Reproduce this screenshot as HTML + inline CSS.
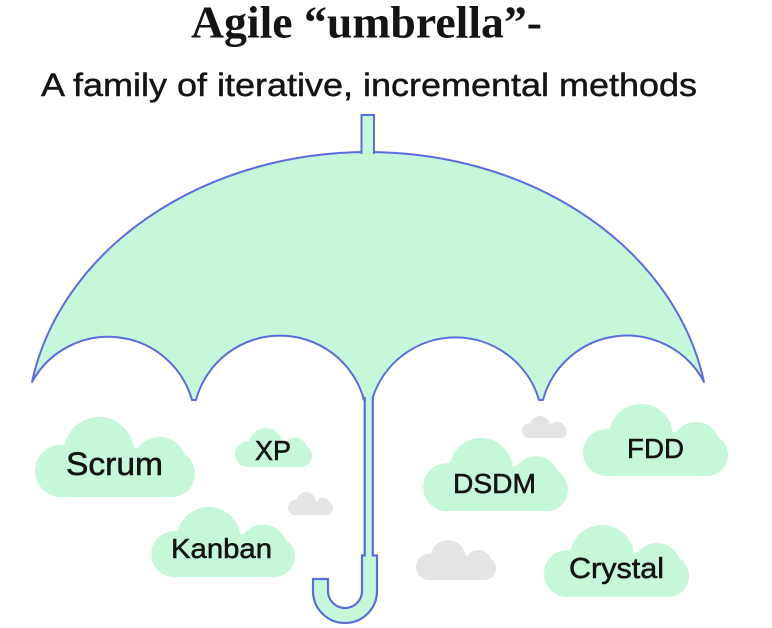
<!DOCTYPE html>
<html>
<head>
<meta charset="utf-8">
<style>
  html, body { margin: 0; padding: 0; background: #ffffff; }
  body { width: 772px; height: 628px; overflow: hidden; }
  svg { display: block; }
  .t { font-family: "Liberation Sans", Arial, sans-serif; fill: #141414; stroke: #141414; stroke-width: 0.55; }
  .sub { font-family: "Liberation Sans", Arial, sans-serif; fill: #141414; stroke: #141414; stroke-width: 0.45; }
  .title { font-family: "Liberation Serif", "Times New Roman", serif; font-weight: bold; fill: #141414; }
</style>
</head>
<body>
<svg width="772" height="628" viewBox="0 0 772 628" xmlns="http://www.w3.org/2000/svg">
  <defs>
    <g id="cl">
      <circle cx="23.5" cy="48.5" r="23.5"/>
      <circle cx="58" cy="32" r="32"/>
      <circle cx="113" cy="42" r="24"/>
      <circle cx="124" cy="51" r="21"/>
      <circle cx="90" cy="42" r="14"/>
      <circle cx="30" cy="36" r="12"/>
      <rect x="22" y="40" width="104" height="32"/>
    </g>
  </defs>

  <rect width="772" height="628" fill="#ffffff"/>

  <!-- Titles -->
  <text class="title" x="191" y="37.5" font-size="46" textLength="351" lengthAdjust="spacingAndGlyphs">Agile “umbrella”-</text>
  <text class="sub" x="41" y="96" font-size="32" textLength="656" lengthAdjust="spacingAndGlyphs">A family of iterative, incremental methods</text>

  <!-- Canopy -->
  <path d="M32,382 A341,278 0 0 1 368,152 A341,278 0 0 1 704,382
           A87,87 0 0 0 543,400 L539,400
           A87,87 0 0 0 372,400 L364,400
           A87,87 0 0 0 196,400 L192,400
           A87,87 0 0 0 32,382 Z"
        fill="#c4f8d8" stroke="#5b6be0" stroke-width="2" stroke-linejoin="round"/>

  <!-- Tip -->
  <path d="M361.5,154 L361.5,115 L374,115 L374,154" fill="#c4f8d8" stroke="#5b6be0" stroke-width="2"/>

  <!-- Shaft + handle -->
  <path d="M364.7,397 L364.7,555.5 L362,555.5 L362,591
           A17,17 0 0 1 328,591 L328,579 L313,579 L313,591
           A32,32 0 0 0 377,591 L377,555.5 L372.8,555.5 L372.8,397"
        fill="#c4f8d8" stroke="#5b6be0" stroke-width="2.2" stroke-linejoin="miter"/>

  <!-- Grey clouds -->
  <g fill="#e4e4e4">
    <use href="#cl" transform="translate(288,492) scale(0.31,0.32)"/>
    <use href="#cl" transform="translate(522,416) scale(0.31,0.306)"/>
    <use href="#cl" transform="translate(416,540) scale(0.552,0.556)"/>
  </g>

  <!-- Green clouds -->
  <g fill="#c5f7d9">
    <use href="#cl" transform="translate(35,417) scale(1.103,1.111)"/>
    <use href="#cl" transform="translate(235,428) scale(0.531,0.542)"/>
    <use href="#cl" transform="translate(151,507) scale(0.993,0.972)"/>
    <use href="#cl" transform="translate(423,438) scale(1,1.014)"/>
    <use href="#cl" transform="translate(583,404) scale(1,1)"/>
    <use href="#cl" transform="translate(544,525) scale(1,1)"/>
  </g>

  <!-- Labels -->
  <text class="t" x="66" y="475" font-size="32" textLength="97" lengthAdjust="spacingAndGlyphs">Scrum</text>
  <text class="t" x="255" y="460" font-size="28" textLength="36" lengthAdjust="spacingAndGlyphs">XP</text>
  <text class="t" x="171" y="558" font-size="28" textLength="101" lengthAdjust="spacingAndGlyphs">Kanban</text>
  <text class="t" x="453" y="493" font-size="28" textLength="83" lengthAdjust="spacingAndGlyphs">DSDM</text>
  <text class="t" x="627" y="458" font-size="28" textLength="57" lengthAdjust="spacingAndGlyphs">FDD</text>
  <text class="t" x="569" y="578" font-size="29" textLength="95" lengthAdjust="spacingAndGlyphs">Crystal</text>
</svg>
</body>
</html>
